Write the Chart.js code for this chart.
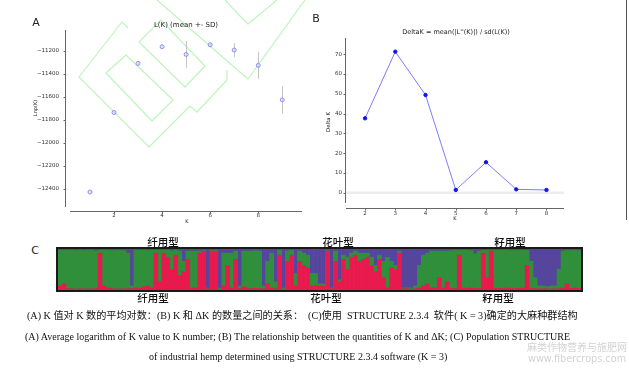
<!DOCTYPE html>
<html>
<head>
<meta charset="utf-8">
<script src="https://cdn.jsdelivr.net/npm/chart.js@4.4.0/dist/chart.umd.min.js"></script>
<style>
  body { margin: 0; background: #fff; }
  #wrap { position: relative; width: 629px; height: 368px; overflow: hidden; background: #fff; font-family: "DejaVu Sans", sans-serif; color: #222; }
  canvas { position: absolute; }
  .t { position: absolute; white-space: pre; line-height: 1; }
  .c { transform: translate(-50%, -50%); }
  .cap { font-family: "Liberation Serif", "Noto Sans CJK SC", serif; font-size: 10px; color: #111; }
  .grp { font-family: "Noto Sans CJK SC", sans-serif; font-weight: 500; font-size: 10.5px; color: #111; }
  .wm { color: #d3d3d3; }
</style>
</head>
<body>
<div id="wrap">
  <!-- faint green logo watermark behind panel A -->
  <svg width="310" height="225" style="position:absolute;left:0;top:0" fill="none" stroke="#bff4bf" stroke-width="1.2" stroke-linejoin="round">
    <polygon points="106,73 126,55 173,100 152,121"/>
    <polygon points="139,42 161,20 205,66 185,87"/>
    <polyline points="128,28 122,22 79,77 149,147 190,106 197,112 227,80 227,70"/>
    <polyline points="157,0 248,79 305,0"/>
    <polyline points="225,0 240,16 248,24 277,0"/>
  </svg>

  <canvas id="cA" width="310" height="225" style="left:0;top:0"></canvas>
  <canvas id="cB" width="319" height="225" style="left:310px;top:0"></canvas>
  <div style="position:absolute;left:626px;top:0;width:1px;height:220px;background:#555"></div>

  <div class="t c" style="left:36px;top:22px;font-size:11px">A</div>
  <div class="t c" style="left:186px;top:25px;font-size:7px">L(K) (mean +- SD)</div>
  <div class="t c" style="left:35px;top:108px;font-size:5px;transform:translate(-50%,-50%) rotate(-90deg)">Lnp(K)</div>
  <div class="t c" style="left:187px;top:221px;font-size:5px">K</div>

  <div class="t c" style="left:316px;top:18px;font-size:11px">B</div>
  <div class="t c" style="left:456px;top:32px;font-size:6.5px">DeltaK = mean(|L''(K)|) / sd(L(K))</div>
  <div class="t c" style="left:329px;top:122px;font-size:5.5px;transform:translate(-50%,-50%) rotate(-90deg)">Delta K</div>
  <div class="t c" style="left:455px;top:218px;font-size:5px">K</div>

  <div class="t c" style="left:35px;top:250px;font-size:11px">C</div>
  <div style="position:absolute;left:56px;top:247px;width:527px;height:45px;border:2px solid #1a1a1a;box-sizing:border-box"></div>
  <canvas id="cC" width="523" height="41" style="left:58px;top:249px"></canvas>

  <div class="t c grp" style="left:163px;top:242px">纤用型</div>
  <div class="t c grp" style="left:338px;top:242px">花叶型</div>
  <div class="t c grp" style="left:510px;top:242px">籽用型</div>
  <div class="t c grp" style="left:153px;top:298px">纤用型</div>
  <div class="t c grp" style="left:326px;top:298px">花叶型</div>
  <div class="t c grp" style="left:498px;top:298px">籽用型</div>

  <div id="cap1" class="t cap">(A) K 值对 K 数的平均对数：(B) K 和 ΔK 的数量之间的关系：  (C)使用  STRUCTURE 2.3.4  软件( K = 3)确定的大麻种群结构</div>
  <div id="cap2" class="t cap">(A) Average logarithm of K value to K number; (B) The relationship between the quantities of K and ΔK; (C) Population STRUCTURE</div>
  <div id="cap3" class="t cap">of industrial hemp determined using STRUCTURE 2.3.4 software (K = 3)</div>

  <div id="wm1" class="t wm" style="font-family:'Noto Sans CJK SC',sans-serif;font-size:10px">麻类作物营养与施肥网</div>
  <div id="wm2" class="t wm" style="font-size:10px">www.fibercrops.com</div>
</div>

<script>
// panel A: L(K) mean and SD per K
const kA = [1, 2, 3, 4, 5, 6, 7, 8, 9];
const lnpMean = [-12426, -11736, -11310, -11165, -11232, -11148, -11194, -11327, -11626];
const lnpSD = [4, 5, 8, 6, 116, 10, 60, 118, 118];
const ticksAx = [2, 4, 6, 8];
const ticksAy = [-11200, -11400, -11600, -11800, -12000, -12200, -12400];

// panel B: DeltaK
const kB = [2, 3, 4, 5, 6, 7, 8];
const deltaK = [37.6, 71.3, 49.4, 1.4, 15.4, 1.7, 1.4];
const ticksBx = [2, 3, 4, 5, 6, 7, 8];
const ticksBy = [0, 10, 20, 30, 40, 50, 60, 70];

// panel C: membership per individual (bottom red, middle green, top purple)
const qRed = [
  .10,.15,.03,.03,.02,.03,.03,.02,.03,.03, .90,.10,.05,.03,.03,.02,.03,.03,.03,.05,
  .04,.08,.10,.05,.90,.20,.90,.80,.50,.85, .35,.45,.75,.05,.05,.90,.95,.03,.95,.95,
  .02,.10,.60,.05,.75,.03,.08,.05,.03,.04, .03,.03,.15,.05,.03,.85,.02,.70,.85,.10,
  .70,.60,.55,.10,.10,.10,.10,.95,.03,.70, .20,.75,.50,.80,.85,.70,.75,.80,.60,.45,
  .75,.30,.05,.55,.50,.90,.03,.03,.02,.03, .05,.10,.15,.05,.05,.30,.05,.20,.04,.03,
  .85,.05,.04,.05,.04,.03,.90,.30,.95,.04, .04,.03,.05,.04,.03,.04,.05,.60,.04,.03,
  .03,.03,.03,.02,.03,.03,.05,.15,.04,.05, .04
];
const qGreen = [
  .87,.82,.94,.94,.94,.94,.93,.95,.94,.92, .07,.87,.92,.93,.94,.95,.93,.87,.07,.92,
  .93,.89,.86,.92,.07,.77,.07,.17,.45,.12, .60,.25,.20,.90,.90,.05,.02,.02,.02,.02,
  .03,.80,.30,.85,.20,.07,.87,.90,.92,.92, .92,.07,.55,.85,.17,.12,.03,.25,.12,.30,
  .25,.30,.30,.30,.30,.05,.05,.02,.02,.25, .05,.10,.30,.10,.10,.20,.15,.10,.20,.15,
  .10,.40,.75,.15,.10,.05,.02,.02,.03,.07, .55,.75,.75,.90,.90,.65,.90,.75,.92,.94,
  .12,.92,.93,.91,.84,.92,.07,.67,.02,.93, .93,.94,.92,.92,.94,.93,.92,.37,.66,.27,
  .07,.07,.05,.08,.07,.47,.90,.82,.92,.92, .92
];
const qPurple = [
  .03,.03,.03,.03,.04,.03,.04,.03,.03,.05, .03,.03,.03,.04,.03,.03,.04,.10,.90,.03,
  .03,.03,.04,.03,.03,.03,.03,.03,.05,.03, .05,.30,.05,.05,.05,.05,.03,.95,.03,.03,
  .95,.10,.10,.10,.05,.90,.05,.05,.05,.04, .05,.90,.30,.10,.80,.03,.95,.05,.03,.60,
  .05,.10,.15,.60,.60,.85,.85,.03,.95,.05, .75,.15,.20,.10,.05,.10,.10,.10,.20,.40,
  .15,.30,.20,.30,.40,.05,.95,.95,.95,.90, .40,.15,.10,.05,.05,.05,.05,.05,.04,.03,
  .03,.03,.03,.04,.12,.05,.03,.03,.03,.03, .03,.03,.03,.04,.03,.03,.03,.03,.30,.70,
  .90,.90,.92,.90,.90,.50,.05,.03,.04,.03, .04
];

Chart.defaults.font.family = '"DejaVu Sans", sans-serif';
Chart.defaults.color = '#333';
Chart.defaults.animation = false;
Chart.defaults.plugins.legend.display = false;
Chart.defaults.plugins.tooltip.enabled = false;

// matplotlib-like offset spines with small outward ticks
const spines = {
  id: 'spines',
  afterDraw(chart, args, o) {
    const { ctx, chartArea: a, scales: { x, y } } = chart;
    ctx.save();
    ctx.strokeStyle = '#666';
    ctx.lineWidth = 1;
    ctx.beginPath();
    const sy = Math.round(a.bottom + o.xOff) + 0.5;
    ctx.moveTo(a.left, sy); ctx.lineTo(a.right, sy);
    x.ticks.forEach(t => {
      const px = Math.round(x.getPixelForValue(t.value)) + 0.5;
      ctx.moveTo(px, sy); ctx.lineTo(px, sy + 2);
    });
    const sx = Math.round(a.left - o.yOff) + 0.5;
    ctx.moveTo(sx, a.top); ctx.lineTo(sx, a.bottom);
    y.ticks.forEach(t => {
      const py = Math.round(y.getPixelForValue(t.value)) + 0.5;
      ctx.moveTo(sx, py); ctx.lineTo(sx - 2, py);
    });
    ctx.stroke();
    ctx.restore();
  }
};

const errBars = {
  id: 'errBars',
  beforeDatasetsDraw(chart) {
    const { ctx, scales: { x, y } } = chart;
    ctx.save();
    ctx.strokeStyle = '#c4c4c4';
    ctx.lineWidth = 1;
    ctx.beginPath();
    kA.forEach((k, i) => {
      const px = Math.round(x.getPixelForValue(k)) + 0.5;
      ctx.moveTo(px, y.getPixelForValue(lnpMean[i] + lnpSD[i]));
      ctx.lineTo(px, y.getPixelForValue(lnpMean[i] - lnpSD[i]));
    });
    ctx.stroke();
    ctx.restore();
  }
};

const zeroLine = {
  id: 'zeroLine',
  beforeDatasetsDraw(chart) {
    const { ctx, chartArea: a, scales: { y } } = chart;
    const py = y.getPixelForValue(0);
    ctx.save();
    ctx.strokeStyle = '#ececec';
    ctx.lineWidth = 2.5;
    ctx.beginPath();
    ctx.moveTo(a.left, py); ctx.lineTo(a.right, py);
    ctx.stroke();
    ctx.restore();
  }
};

const tickFont = { size: 5.5 };
const fixTicks = list => s => { s.ticks = list.map(v => ({ value: v })); };

new Chart(document.getElementById('cA'), {
  type: 'scatter',
  data: {
    datasets: [{
      data: kA.map((k, i) => ({ x: k, y: lnpMean[i] })),
      pointRadius: 2,
      borderWidth: 1,
      borderColor: '#8f8ff2',
      backgroundColor: 'rgba(215,215,255,0.6)'
    }]
  },
  options: {
    responsive: false,
    devicePixelRatio: 1,
    layout: { padding: { top: 30, right: 8, left: 0, bottom: 0 } },
    scales: {
      x: {
        type: 'linear', min: 0.17, max: 9.82,
        afterBuildTicks: fixTicks(ticksAx),
        afterFit: s => { s.height = 18; },
        grid: { display: false, drawTicks: true, tickLength: 4 },
        border: { display: false },
        ticks: { font: tickFont, padding: 1, autoSkip: false, maxRotation: 0 }
      },
      y: {
        min: -12556, max: -11020,
        afterBuildTicks: fixTicks(ticksAy),
        afterFit: s => { s.width = 70; },
        grid: { display: false, drawTicks: true, tickLength: 8 },
        border: { display: false },
        ticks: { font: tickFont, padding: 3, autoSkip: false, callback: v => '\u2212' + Math.abs(v) }
      }
    },
    plugins: { spines: { xOff: 4, yOff: 5 } }
  },
  plugins: [spines, errBars]
});

new Chart(document.getElementById('cB'), {
  type: 'line',
  data: {
    datasets: [{
      data: kB.map((k, i) => ({ x: k, y: deltaK[i] })),
      borderColor: '#7c7cfa',
      borderWidth: 1,
      pointRadius: 1.7,
      pointBackgroundColor: '#1212ee',
      pointBorderColor: '#1212ee',
      tension: 0
    }]
  },
  options: {
    responsive: false,
    devicePixelRatio: 1,
    layout: { padding: { top: 38, right: 65, left: 0, bottom: 0 } },
    scales: {
      x: {
        type: 'linear', min: 1.37, max: 8.58,
        afterBuildTicks: fixTicks(ticksBx),
        afterFit: s => { s.height = 22; },
        grid: { display: false, drawTicks: true, tickLength: 6 },
        border: { display: false },
        ticks: { font: tickFont, padding: 1, autoSkip: false, maxRotation: 0 }
      },
      y: {
        min: -5.2, max: 78.2,
        afterBuildTicks: fixTicks(ticksBy),
        afterFit: s => { s.width = 36; },
        grid: { display: false, drawTicks: true, tickLength: 2 },
        border: { display: false },
        ticks: { font: tickFont, padding: 2, autoSkip: false }
      }
    },
    plugins: { spines: { xOff: 5, yOff: 1 } }
  },
  plugins: [spines, zeroLine]
});

const barStyle = { borderWidth: 0, barPercentage: 1, categoryPercentage: 1 };
new Chart(document.getElementById('cC'), {
  type: 'bar',
  data: {
    labels: qRed.map((_, i) => i + 1),
    datasets: [
      { data: qRed, backgroundColor: '#e8194c', ...barStyle },
      { data: qGreen, backgroundColor: '#2f8f3b', ...barStyle },
      { data: qPurple, backgroundColor: '#56459c', ...barStyle }
    ]
  },
  options: {
    responsive: false,
    devicePixelRatio: 1,
    layout: { padding: 0 },
    scales: {
      x: { display: false, stacked: true },
      y: { display: false, stacked: true, min: 0, max: 1 }
    }
  }
});

// condensed caption lines: stretch each to its measured width in the figure
function place(id, left, cy, width) {
  const el = document.getElementById(id);
  const w = el.offsetWidth, h = el.offsetHeight;
  el.style.left = left + 'px';
  el.style.top = (cy - h / 2) + 'px';
  el.style.transformOrigin = '0 50%';
  el.style.transform = 'scaleX(' + (width / w) + ')';
}
place('cap1', 27, 316, 551);
place('cap2', 25, 337, 545);
place('cap3', 149, 357, 298);
place('wm1', 527, 347, 100);
place('wm2', 528, 359, 98);
</script>
</body>
</html>
